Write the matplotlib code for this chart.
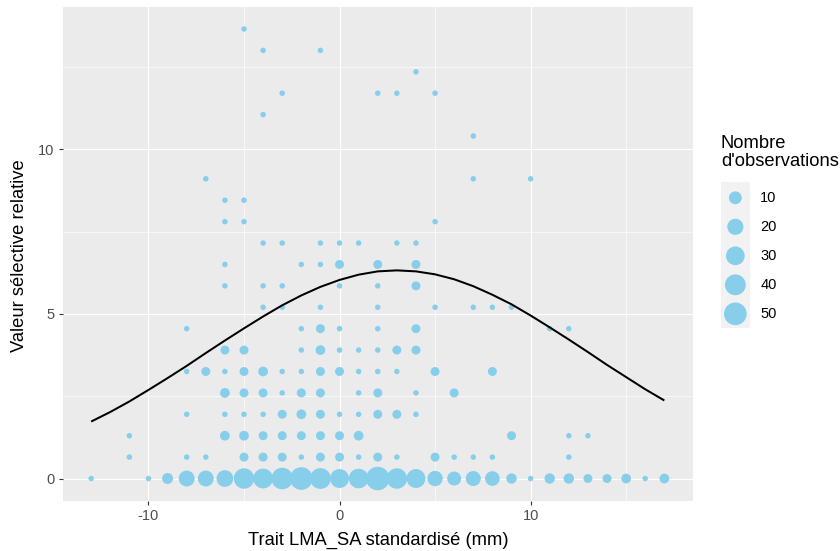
import matplotlib
matplotlib.use('Agg')
import matplotlib.pyplot as plt
import numpy as np

plt.rcParams['font.family'] = ['Liberation Sans', 'DejaVu Sans']
plt.rcParams['axes.unicode_minus'] = False

DPI = 100

# Observations: standardised trait value, relative fitness value, number of observations
# (grouped by fitness level, from bottom to top)
obs_x = [
    -13, -10, -9, -8, -7, -6, -5, -4, -3, -2, -1, 0, 1, 2, 3, 4, 5, 6, 7, 8, 9, 10, 11, 12, 13, 14, 15, 16, 17,
    -11, -8, -7, -5, -4, -3, -2, -1, 0, 1, 2, 3, 5, 6, 7, 8, 12,
    -11, -6, -5, -4, -3, -2, -1, 0, 1, 9, 12, 13,
    -8, -6, -5, -4, -3, -2, -1, 0, 1, 2, 3, 4,
    -6, -5, -4, -3, -2, -1, 1, 2, 4, 6,
    -8, -7, -6, -5, -4, -3, -2, -1, 0, 1, 2, 3, 5, 8,
    -6, -5, -2, -1, 0, 1, 2, 3, 4,
    -8, -2, -1, 0, 2, 4, 11, 12,
    -4, -3, -1, 2, 5, 7, 8, 9,
    -6, -4, -3, 0, 2, 4,
    -6, -2, -1, 0, 2, 4,
    -4, -3, -1, 0, 1, 3, 4,
    -6, -5, 5,
    -6, -5,
    -7, 7, 10,
    7,
    -4,
    -3, 2, 3, 5,
    4,
    -4, -1,
    -5,
]
obs_y = (
    [0.0] * 29 + [0.65] * 17 + [1.3] * 12 + [1.95] * 12 + [2.6] * 10
    + [3.25] * 14 + [3.9] * 9 + [4.55] * 8 + [5.2] * 8 + [5.85] * 6
    + [6.5] * 6 + [7.15] * 7 + [7.8] * 3 + [8.45] * 2 + [9.1] * 3
    + [10.4] * 1 + [11.05] * 1 + [11.7] * 4 + [12.35] * 1 + [13.0] * 2 + [13.65] * 1
)
obs_n = [
    1, 1, 6, 19, 19, 22, 38, 35, 44, 50, 40, 31, 34, 55, 38, 31, 17, 13, 16, 15, 5, 1, 5, 5, 3, 3, 4, 1, 4,
    1, 1, 1, 3, 3, 3, 1, 3, 3, 1, 3, 1, 3, 1, 1, 1, 1,
    1, 4, 4, 3, 3, 3, 3, 3, 4, 3, 1, 1,
    1, 1, 1, 1, 3, 4, 3, 1, 1, 3, 3, 1,
    4, 3, 3, 1, 3, 3, 1, 3, 1, 3,
    1, 3, 1, 3, 4, 1, 1, 3, 3, 1, 1, 1, 3, 3,
    3, 3, 1, 4, 1, 1, 1, 3, 3,
    1, 1, 3, 1, 1, 3, 1, 1,
    1, 1, 1, 1, 1, 1, 1, 1,
    1, 1, 1, 1, 1, 3,
    1, 1, 1, 3, 3, 3,
    1, 1, 1, 1, 1, 1, 1,
    1, 1, 1,
    1, 1,
    1, 1, 1,
    1,
    1,
    1, 1, 1, 1,
    1,
    1, 1,
    1,
]

# Fitted selection curve, read at each integer trait value
curve_x = [-13, -12, -11, -10, -9, -8, -7, -6, -5, -4, -3, -2, -1, 0, 1, 2,
           3, 4, 5, 6, 7, 8, 9, 10, 11, 12, 13, 14, 15, 16, 17]
curve_y = [1.73, 2.02, 2.34, 2.69, 3.05, 3.42, 3.81, 4.19, 4.56, 4.92, 5.26, 5.56, 5.82, 6.03, 6.19, 6.29,
           6.32, 6.29, 6.20, 6.05, 5.84, 5.58, 5.29, 4.95, 4.59, 4.22, 3.84, 3.45, 3.08, 2.71, 2.37]

legend_counts = [10, 20, 30, 40, 50]

POINT_COLOR = '#87CEEB'


def point_area(n):
    # ggplot-like area scaling: diameter grows with sqrt of count
    d_px = 5.5 + 2.45 * np.sqrt(np.asarray(n, dtype=float) - 1)
    d_pt = d_px * 72.0 / DPI
    return d_pt ** 2


fig = plt.figure(figsize=(8.4, 5.51), dpi=DPI)
ax = fig.add_axes([62.5 / 840, 50 / 551, (693 - 62.5) / 840, 494.5 / 551])
ax.set_facecolor('#EBEBEB')
for sp in ax.spines.values():
    sp.set_visible(False)

ax.scatter(obs_x, obs_y, s=point_area(obs_n), color=POINT_COLOR, linewidths=0, zorder=3)
ax.plot(curve_x, curve_y, color='black', lw=1.45, zorder=4,
        solid_capstyle='butt', solid_joinstyle='round')

ax.set_xlim(-14.5, 18.5)
ax.set_ylim(-0.6825, 14.3325)
ax.set_xticks([-10, 0, 10])
ax.set_xticklabels(['-10', '0', '10'])
ax.set_xticks([-5, 5, 15], minor=True)
ax.set_yticks([0, 5, 10])
ax.set_yticklabels(['0', '5', '10'])
ax.set_yticks([2.5, 7.5, 12.5], minor=True)
ax.grid(which='major', color='white', lw=0.85)
ax.grid(which='minor', color='white', lw=0.45)
ax.set_axisbelow(True)
ax.tick_params(which='major', length=3.2, width=0.8, color='#333333',
               labelcolor='#4D4D4D', labelsize=10.5, pad=2.5)
ax.tick_params(which='minor', length=0)

fig.text(378 / 840, 1 - 540 / 551, 'Trait LMA_SA standardisé (mm)',
         ha='center', va='center', fontsize=13.2)
fig.text(20 / 840, 1 - 256 / 551, 'Valeur sélective relative',
         ha='center', va='center', rotation=90, fontsize=13.2)

# Legend for point sizes
fig.text(721 / 840, 1 - 135 / 551, "Nombre\nd'observations",
         ha='left', va='top', fontsize=13.2, linespacing=1.08)
lax = fig.add_axes([720.7 / 840, (551 - 328.3) / 551, 29.3 / 840, 146 / 551])
lax.set_facecolor('#F2F2F2')
lax.set_xlim(0, 1)
lax.set_ylim(146, 0)
lax.set_xticks([])
lax.set_yticks([])
for sp in lax.spines.values():
    sp.set_visible(False)
key_y = [15.5 + 29 * i for i in range(len(legend_counts))]
lax.scatter([0.5] * len(legend_counts), key_y, s=point_area(legend_counts),
            color=POINT_COLOR, linewidths=0, clip_on=False)
for yk, v in zip(key_y, legend_counts):
    lax.text(1.35, yk, str(v), ha='left', va='center', fontsize=10.5, clip_on=False)

fig.savefig('out.png', dpi=DPI)
